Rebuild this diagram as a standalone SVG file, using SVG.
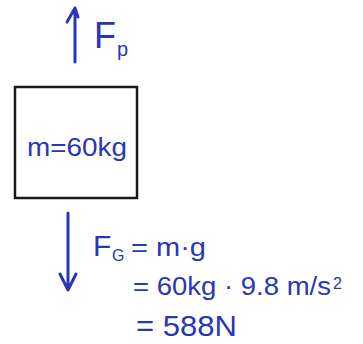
<svg xmlns="http://www.w3.org/2000/svg" width="363" height="344" viewBox="0 0 363 344">
<style>
.ink{fill:#2a36b8;font-family:"Liberation Sans","DejaVu Sans",sans-serif}
.arr{stroke:#2a36b8;stroke-width:3;fill:none;stroke-linecap:round;stroke-linejoin:round}
</style>
<rect width="363" height="344" fill="#ffffff"/>
<g id="connectors">
<path class="arr" d="M75,62 L75,8 M67,22 L75,8 L78,17"/>
<path class="arr" d="M68,213 L68,290 M60,274 L68,290 L76,274"/>
</g>
<g id="label-fp">
<text class="ink" x="94" y="48" font-size="36">F</text>
<text class="ink" x="117" y="56" font-size="20">p</text>
</g>
<g id="mass-box">
<rect x="15" y="87" width="122" height="111" fill="none" stroke="#1a1a1a" stroke-width="2.5"/>
<text class="ink" x="27" y="156" font-size="25" textLength="100" lengthAdjust="spacingAndGlyphs">m=60kg</text>
</g>
<g id="equations">
<text class="ink" x="93" y="256" font-size="30">F</text>
<text class="ink" x="112" y="261" font-size="16">G</text>
<text class="ink" x="131" y="256" font-size="26" textLength="75" lengthAdjust="spacingAndGlyphs">= m·g</text>
<text class="ink" x="133" y="295" font-size="26" textLength="198" lengthAdjust="spacingAndGlyphs">= 60kg · 9.8 m/s</text>
<text class="ink" x="333" y="289" font-size="16">2</text>
<text class="ink" x="136" y="336" font-size="30" textLength="101" lengthAdjust="spacingAndGlyphs">= 588N</text>
</g>
</svg>
